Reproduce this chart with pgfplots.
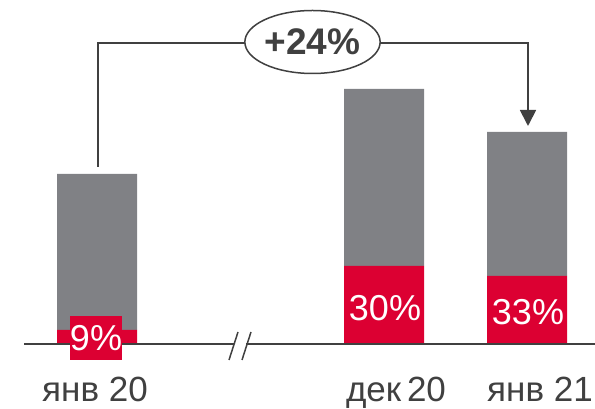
\documentclass[border=0pt]{standalone}
\usepackage{pgfplots}
\pgfplotsset{compat=1.18}
\usetikzlibrary{arrows.meta,shapes.geometric}
\usepackage{fontspec}
\setmainfont{Liberation Sans}
\definecolor{barred}{RGB}{220,0,50}
\definecolor{bargray}{RGB}{128,129,133}
\definecolor{ink}{RGB}{64,64,64}
\begin{document}
\begin{tikzpicture}
\begin{axis}[
    scale only axis,
    width=595pt, height=409pt,
    xmin=0, xmax=595,
    ymin=-65, ymax=344,
    axis lines=none,
    ybar stacked,
    bar width=80,
    clip=false,
]
% red share at bottom, gray remainder on top (pixel heights)
\addplot[fill=barred, draw=none] coordinates {(97,14) (384,78) (527,68)};
\addplot[fill=bargray, draw=none] coordinates {(97,156) (384,177) (527,144)};

% anchor points for the annotations drawn on top
\coordinate (b0) at (axis cs:24,0);
\coordinate (b1) at (axis cs:234,0);
\coordinate (b2) at (axis cs:246,0);
\coordinate (b3) at (axis cs:595,0);
\coordinate (s1a) at (axis cs:229,-16);
\coordinate (s1b) at (axis cs:238,12);
\coordinate (s2a) at (axis cs:242,-16);
\coordinate (s2b) at (axis cs:251,12);
\coordinate (a0) at (axis cs:98,177);
\coordinate (a1) at (axis cs:98,301);
\coordinate (a2) at (axis cs:528,301);
\coordinate (a3) at (axis cs:528,218);
\coordinate (el) at (axis cs:312.5,302);
\coordinate (v1) at (axis cs:96,6);
\coordinate (v2) at (axis cs:385,36);
\coordinate (v3) at (axis cs:528,32);
\coordinate (c1) at (axis cs:95,-58);
\coordinate (c2) at (axis cs:396,-58);
\coordinate (c3) at (axis cs:540,-58);
\end{axis}

% baseline with break marks
\draw[ink, line width=1.8pt] (b0) -- (b1);
\draw[ink, line width=1.8pt] (b2) -- (b3);
\draw[ink, line width=1.5pt] (s1a) -- (s1b);
\draw[ink, line width=1.5pt] (s2a) -- (s2b);

% growth arrow
\draw[ink, line width=1.8pt, -{Triangle[width=16pt,length=16pt]}]
    (a0) -- (a1) -- (a2) -- (a3);
\node[draw=ink, line width=1.5pt, fill=white, ellipse, minimum width=108pt,
      minimum height=63pt, inner sep=0pt, text=ink,
      font=\fontsize{37}{40}\selectfont\bfseries] at (el) {+24\%};

% value labels
\node[fill=barred, text=white, minimum width=50pt, minimum height=44pt,
      inner sep=0pt, font=\fontsize{36}{40}\selectfont] at (v1) {9\%};
\node[text=white, inner sep=0pt, font=\fontsize{36}{40}\selectfont] at (v2) {30\%};
\node[text=white, inner sep=0pt, font=\fontsize{36}{40}\selectfont] at (v3) {33\%};

% category labels
\node[text=ink, inner sep=0pt, anchor=base, font=\fontsize{35}{40}\selectfont]
    at (c1) {янв 20};
\node[text=ink, inner sep=0pt, anchor=base, font=\fontsize{35}{40}\selectfont]
    at (c2) {дек\,20};
\node[text=ink, inner sep=0pt, anchor=base, font=\fontsize{35}{40}\selectfont]
    at (c3) {янв 21};

\pgfresetboundingbox
\path (0,0) rectangle (595pt,409pt);
\end{tikzpicture}
\end{document}
